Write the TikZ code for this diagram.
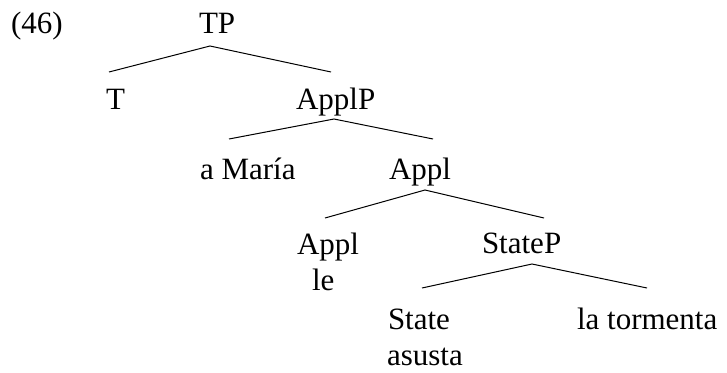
\documentclass[tikz,border=0pt]{standalone}
\usepackage{fontspec}
\setmainfont{Liberation Serif}
\begin{document}
\begin{tikzpicture}[x=1pt,y=-1pt,
  lbl/.style={anchor=base west,inner sep=0pt,outer sep=0pt,
    font=\fontsize{31}{36}\selectfont},
  branch/.style={draw=black,line width=1pt}]
\useasboundingbox (0,0) rectangle (727,372);

% example number
\node[lbl] (num) at (11,33) {(46)};

% labels of the tree
\node[lbl] (tp)     at (199,33)  {TP};
\node[lbl] (t)      at (106,109) {T};
\node[lbl] (applp)  at (296,109) {ApplP};
\node[lbl] (maria)  at (200,179) {a María};
\node[lbl] (applb)  at (389,179) {Appl};
\node[lbl] (appl)   at (297,254) {Appl};
\node[lbl] (le)     at (312,290) {le};
\node[lbl] (statep) at (482,253) {StateP};
\node[lbl] (state)  at (388,329) {State};
\node[lbl] (asusta) at (387,365) {asusta};
\node[lbl] (torm)   at (577,329) {la tormenta};

% branching points and branch ends
\coordinate (tpTop)  at (210,46);
\coordinate (tpL)    at (109,72);
\coordinate (tpR)    at (331,72);
\coordinate (apTop)  at (334,119);
\coordinate (apL)    at (229,139);
\coordinate (apR)    at (433,139);
\coordinate (abTop)  at (425,190);
\coordinate (abL)    at (325,218);
\coordinate (abR)    at (544,218);
\coordinate (spTop)  at (532,264);
\coordinate (spL)    at (422,288);
\coordinate (spR)    at (647,288);

% branches
\draw[branch] (tpL) -- (tpTop) -- (tpR);
\draw[branch] (apL) -- (apTop) -- (apR);
\draw[branch] (abL) -- (abTop) -- (abR);
\draw[branch] (spL) -- (spTop) -- (spR);
\end{tikzpicture}
\end{document}
